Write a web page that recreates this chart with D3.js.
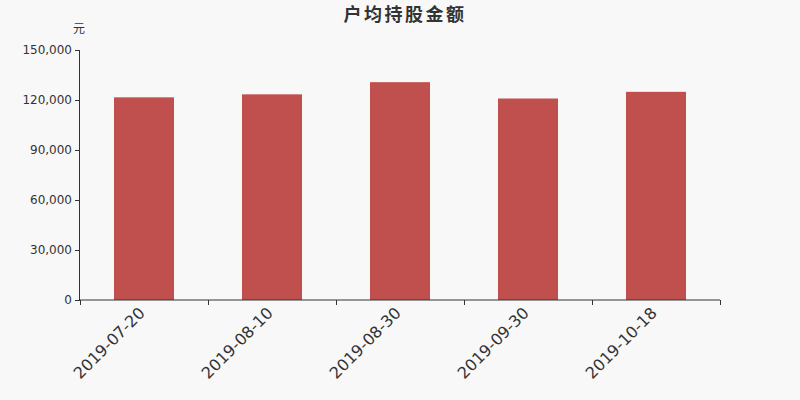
<!DOCTYPE html>
<html lang="zh-CN">
<head>
    <meta charset="UTF-8">
    <title>户均持股金额</title>
    <script src="https://d3js.org/d3.v7.min.js"></script>
</head>
<style>
    body{
        margin: 0;
        background: #f8f8f8;
    }
    svg text{
        font-family: "DejaVu Sans", "Noto Sans CJK SC", sans-serif;
    }
</style>
<body>
    <div id='grafico'></div>
</body>
<script>
    const datas = ['2019-07-20', '2019-08-10', '2019-08-30', '2019-09-30', '2019-10-18']
    const valores = [121600, 123400, 130700, 120900, 124900]
    const ticksY = [0, 30000, 60000, 90000, 120000, 150000]

    const esq = 80, dir = 720, topo = 50, base = 300

    var svg = d3.select('#grafico')
        .append('svg')
        .attr('width', 800)
        .attr('height', 400)
        .style('display', 'block')

    svg.append('rect').attr('width', 800).attr('height', 400).attr('fill', '#f8f8f8')

    const x = d3.scaleBand().domain(datas).range([esq, dir])
    const y = d3.scaleLinear().domain([0, 150000]).range([base, topo])

    // titulo e unidade
    svg.append('text')
        .attr('x', 405).attr('y', 21)
        .attr('text-anchor', 'middle')
        .style('font-size', '18px')
        .style('letter-spacing', '2.5px')
        .style('font-weight', 'bold')
        .style('font-family', '"Noto Sans CJK SC", sans-serif')
        .attr('fill', '#333')
        .text('户均持股金额')

    svg.append('text')
        .attr('x', 79).attr('y', 33)
        .attr('text-anchor', 'middle')
        .style('font-size', '12px')
        .style('font-family', '"Noto Sans CJK SC", sans-serif')
        .attr('fill', '#333')
        .text('元')

    svg.selectAll('rect.bar')
        .data(valores)
        .enter()
        .append('rect')
        .attr('class', 'bar')
        .attr('x', (d, i) => x(datas[i]) + (x.bandwidth() - 60) / 2)
        .attr('width', 60)
        .attr('y', d => y(d))
        .attr('height', d => base - y(d))
        .style('fill', '#c0504d')

    const yAxis = d3.axisLeft(y).tickValues(ticksY).tickSize(5).tickFormat(d3.format(','))
    const gy = svg.append('g')
        .attr('transform', `translate(${esq}, 0)`)
        .call(yAxis)
    gy.selectAll('text')
        .style('font-size', '12px')
        .style('font-family', '"DejaVu Sans", sans-serif')
        .attr('fill', '#333').attr('x', -8)
    gy.selectAll('line').attr('stroke', '#333')
    gy.select('.domain').attr('stroke', '#333').attr('d', `M${-0.5},${topo}V${base}`)

    // eixo x com ticks nas divisoes das bandas
    const limites = d3.range(datas.length + 1).map(i => esq + i * x.step())
    const gx = svg.append('g').attr('transform', `translate(0, ${base})`)
    gx.append('line').attr('x1', esq).attr('x2', dir).attr('stroke', '#333')
    gx.selectAll('line.tick')
        .data(limites)
        .enter()
        .append('line')
        .attr('class', 'tick')
        .attr('x1', d => d + 0.5).attr('x2', d => d + 0.5)
        .attr('y1', 0).attr('y2', 5)
        .attr('stroke', '#333')
    gx.selectAll('text')
        .data(datas)
        .enter()
        .append('text')
        .attr('transform', d => `translate(${x(d) + x.bandwidth() / 2 + 2}, 14) rotate(-45)`)
        .attr('text-anchor', 'end')
        .style('font-size', '16px')
        .attr('fill', '#333')
        .text(d => d)
</script>
</html>
